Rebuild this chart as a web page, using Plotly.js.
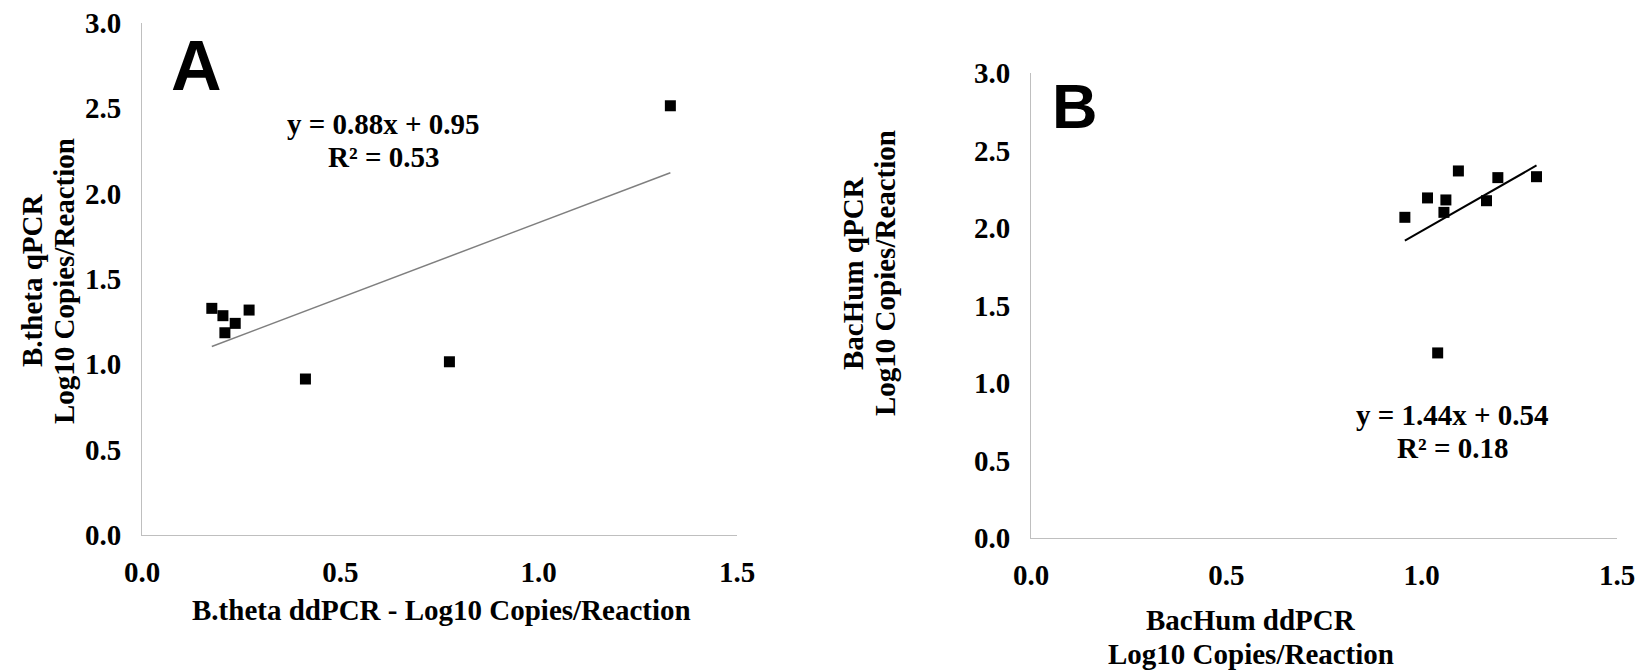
<!DOCTYPE html>
<html>
<head>
<meta charset="utf-8">
<script src="https://cdn.plot.ly/plotly-3.0.1.min.js"></script>
<style>
  html, body { margin: 0; padding: 0; background: #fff; }
  #chart { width: 1641px; height: 670px; }
</style>
</head>
<body>
<div id="chart"></div>
<script>
// ---- Data ----
const panelA_x = [0.176, 0.204, 0.235, 0.209, 0.270, 0.412, 0.775, 1.332];
const panelA_y = [1.328, 1.285, 1.240, 1.185, 1.318, 0.914, 1.015, 2.515];
const panelB_x = [0.957, 1.015, 1.062, 1.057, 1.094, 1.166, 1.195, 1.294, 1.041];
const panelB_y = [2.069, 2.194, 2.181, 2.101, 2.368, 2.176, 2.325, 2.331, 1.194];

// Trendline coefficients as printed on the chart
const fitA = { slope: 0.88, intercept: 0.95, r2: 0.53 };
const fitB = { slope: 1.44, intercept: 0.54, r2: 0.18 };

const xTickVals = [0, 0.5, 1.0, 1.5];
const yTickVals = [0, 0.5, 1.0, 1.5, 2.0, 2.5, 3.0];

const panelLabels = ["A", "B"];
const yTitleA = ["B.theta qPCR", "Log10 Copies/Reaction"];
const xTitleA = "B.theta ddPCR - Log10 Copies/Reaction";
const yTitleB = ["BacHum qPCR", "Log10 Copies/Reaction"];
const xTitleB = ["BacHum ddPCR", "Log10 Copies/Reaction"];

// ---- Helpers ----
function fitLine(xs, fit) {
  const lo = Math.min(...xs), hi = Math.max(...xs);
  return { x: [lo, hi], y: [fit.slope * lo + fit.intercept, fit.slope * hi + fit.intercept] };
}
function fmt(v) { return v.toFixed(2); }
const W = 1641, H = 670;
const px = v => v / W;
const py = v => 1 - v / H;

const serif = { family: "Liberation Serif, Times New Roman, serif", size: 29, color: "#000", weight: "bold" };
const tickFont = { family: "Liberation Serif, Times New Roman, serif", size: 29, color: "#000", weight: "bold" };

const lineA = fitLine(panelA_x, fitA);
const lineB = fitLine(panelB_x, fitB);

const traces = [
  { type: "scatter", mode: "lines", x: lineA.x, y: lineA.y, xaxis: "x", yaxis: "y",
    line: { color: "#7f7f7f", width: 1.5 }, hoverinfo: "skip" },
  { type: "scatter", mode: "markers", x: panelA_x, y: panelA_y, xaxis: "x", yaxis: "y",
    marker: { symbol: "square", size: 11, color: "#000" } },
  { type: "scatter", mode: "lines", x: lineB.x, y: lineB.y, xaxis: "x2", yaxis: "y2",
    line: { color: "#000", width: 2 }, hoverinfo: "skip" },
  { type: "scatter", mode: "markers", x: panelB_x, y: panelB_y, xaxis: "x2", yaxis: "y2",
    marker: { symbol: "square", size: 11, color: "#000" } }
];

function xAxis(domain, anchor) {
  return {
    domain: domain, anchor: anchor, range: [0, 1.5], tickvals: xTickVals,
    tickformat: ".1f", showgrid: false, zeroline: false, showline: true,
    linecolor: "#bfbfbf", linewidth: 1, ticks: "", tickfont: tickFont,
    ticklabelstandoff: 11, fixedrange: true
  };
}
function yAxis(domain, anchor) {
  return {
    domain: domain, anchor: anchor, range: [0, 3], tickvals: yTickVals,
    tickformat: ".1f", showgrid: false, zeroline: false, showline: true,
    linecolor: "#bfbfbf", linewidth: 1, ticks: "", tickfont: tickFont,
    ticklabelstandoff: 14, fixedrange: true
  };
}

const ann = (x, y, text, font, extra) => Object.assign({
  xref: "paper", yref: "paper", x: px(x), y: py(y), text: text, showarrow: false,
  xanchor: "center", yanchor: "middle", font: font
}, extra || {});

const annotations = [
  ann(196, 66, panelLabels[0], { family: "Liberation Sans, Arial, sans-serif", size: 70, color: "#000", weight: "bold" }),
  ann(1075, 106, panelLabels[1], { family: "Liberation Sans, Arial, sans-serif", size: 63, color: "#000", weight: "bold" }),
  ann(383, 124, "y = " + fmt(fitA.slope) + "x + " + fmt(fitA.intercept), serif),
  ann(383, 157, "R² = " + fmt(fitA.r2), serif),
  ann(1452, 415, "y = " + fmt(fitB.slope) + "x + " + fmt(fitB.intercept), serif),
  ann(1452, 448, "R² = " + fmt(fitB.r2), serif),
  ann(441, 610, xTitleA, serif),
  ann(32, 281, yTitleA[0], serif, { textangle: -90 }),
  ann(64, 281, yTitleA[1], serif, { textangle: -90 }),
  ann(853, 273, yTitleB[0], serif, { textangle: -90 }),
  ann(885, 273, yTitleB[1], serif, { textangle: -90 }),
  ann(1251, 620, xTitleB[0], serif),
  ann(1251, 654, xTitleB[1], serif)
];

const layout = {
  width: W, height: H,
  margin: { l: 0, r: 0, t: 0, b: 0 },
  paper_bgcolor: "#fff", plot_bgcolor: "#fff",
  showlegend: false,
  xaxis: xAxis([px(142), px(737)], "y"),
  yaxis: yAxis([py(535), py(23)], "x"),
  xaxis2: xAxis([px(1031), px(1617)], "y2"),
  yaxis2: yAxis([py(538), py(73)], "x2"),
  annotations: annotations
};

Plotly.newPlot("chart", traces, layout, { displayModeBar: false, staticPlot: true });
</script>
</body>
</html>
